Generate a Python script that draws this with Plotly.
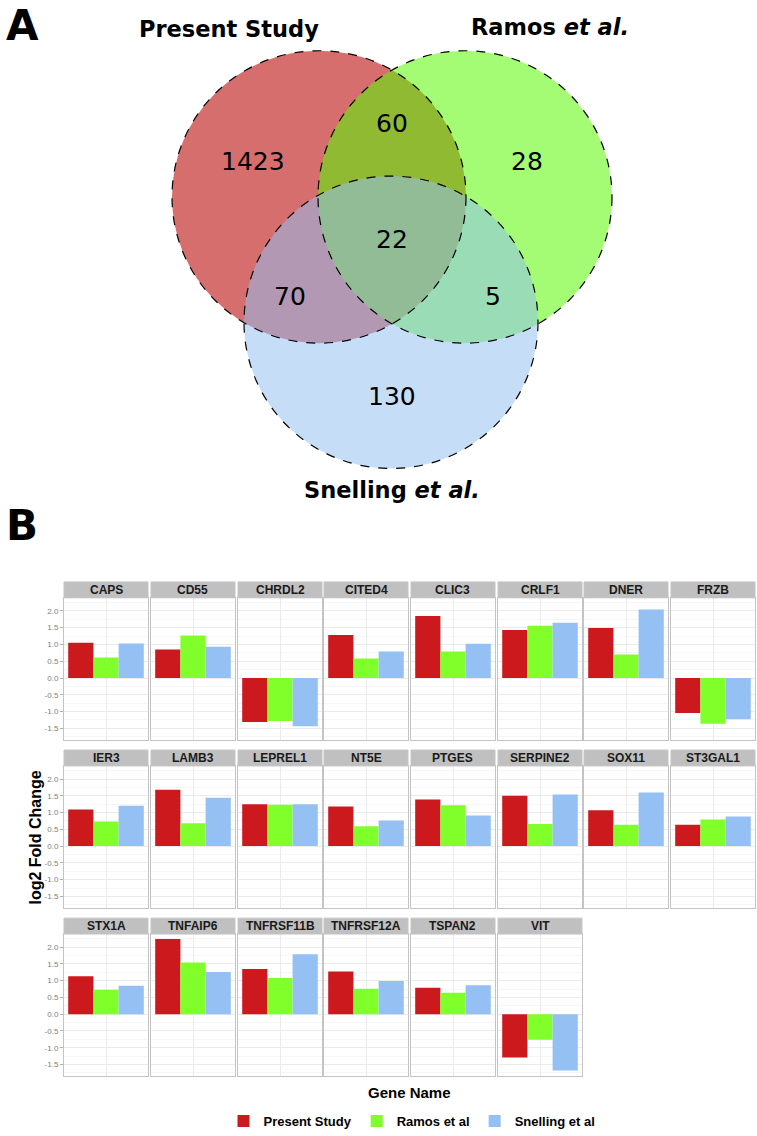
import plotly.graph_objects as go

W, H = 757, 1136

# ---------------- data ----------------
genes = ["CAPS", "CD55", "CHRDL2", "CITED4", "CLIC3", "CRLF1", "DNER", "FRZB",
         "IER3", "LAMB3", "LEPREL1", "NT5E", "PTGES", "SERPINE2", "SOX11", "ST3GAL1",
         "STX1A", "TNFAIP6", "TNFRSF11B", "TNFRSF12A", "TSPAN2", "VIT"]
present_study = [1.05, 0.85, -1.31, 1.28, 1.85, 1.43, 1.49, -1.04,
                 1.09, 1.68, 1.25, 1.18, 1.39, 1.50, 1.07, 0.64,
                 1.13, 2.24, 1.35, 1.27, 0.79, -1.29]
ramos = [0.61, 1.27, -1.28, 0.58, 0.79, 1.56, 0.70, -1.36,
         0.73, 0.68, 1.23, 0.59, 1.22, 0.66, 0.64, 0.79,
         0.73, 1.54, 1.08, 0.76, 0.64, -0.76]
snelling = [1.03, 0.93, -1.44, 0.79, 1.02, 1.65, 2.04, -1.23,
            1.20, 1.44, 1.25, 0.76, 0.91, 1.54, 1.60, 0.88,
            0.85, 1.26, 1.79, 0.99, 0.86, -1.68]
series_names = ["Present Study", "Ramos et al", "Snelling et al"]
series_colors = ["#CB191E", "#80FF2A", "#94C0F3"]
y_ticks = [-1.5, -1.0, -0.5, 0.0, 0.5, 1.0, 1.5, 2.0]
y_ticktext = ["-1.5", "-1.0", "-0.5", "0.0", "0.5", "1.0", "1.5", "2.0"]

venn_sets = ["Present Study", "Ramos <i>et al.</i>", "Snelling <i>et al.</i>"]
venn_regions = ["P only", "P&R", "R only", "P&R&S", "P&S", "R&S", "S only"]
venn_counts = [1423, 60, 28, 22, 70, 5, 130]

# ---------------- helpers ----------------
def px(x):
    return x / W

def py(y):
    return 1 - y / H

FONT = "Liberation Sans, Arial, Helvetica, sans-serif"
VFONT = "DejaVu Sans, sans-serif"

fig = go.Figure()
layout = dict(width=W, height=H, margin=dict(l=0, r=0, t=0, b=0),
              paper_bgcolor="white", plot_bgcolor="white",
              barmode="overlay", showlegend=True)
shapes = []
annotations = []

# ---------------- Panel A : Venn ----------------
venn_circles = [  # (cx, cy, r, fill)
    (319, 198, 147, "rgba(187,13,13,0.6)"),
    (465, 198, 147, "rgba(88,250,2,0.55)"),
    (391, 324, 147, "rgba(145,190,240,0.53)"),
]
for cx, cy, r, fill in venn_circles:
    shapes.append(dict(type="circle", xref="paper", yref="paper",
                       x0=px(cx - r), x1=px(cx + r), y0=py(cy + r), y1=py(cy - r),
                       fillcolor=fill, line=dict(width=0), layer="above"))
for cx, cy, r, fill in venn_circles:
    shapes.append(dict(type="circle", xref="paper", yref="paper",
                       x0=px(cx - r), x1=px(cx + r), y0=py(cy + r), y1=py(cy - r),
                       fillcolor="rgba(0,0,0,0)",
                       line=dict(width=1.2, color="black", dash="dash"), layer="above"))

count_pos = [(253, 162), (392, 124), (527, 162), (392, 241), (290, 298), (493, 298), (392, 399)]
for (x, y), c in zip(count_pos, venn_counts):
    annotations.append(dict(xref="paper", yref="paper", x=px(x), y=py(y), text=str(c),
                            showarrow=False, xanchor="center", yanchor="middle",
                            font=dict(family=VFONT, size=25, color="black")))

set_label_pos = [(229, 29), (550, 27), (392, 493)]
for (x, y), t in zip(set_label_pos, venn_sets):
    annotations.append(dict(xref="paper", yref="paper", x=px(x), y=py(y), text="<b>" + t + "</b>",
                            showarrow=False, xanchor="center", yanchor="middle",
                            font=dict(family=VFONT, size=22.5, color="black")))

for lbl, (x, y) in [("A", (22, 26)), ("B", (22, 528))]:
    annotations.append(dict(xref="paper", yref="paper", x=px(x), y=py(y), text="<b>" + lbl + "</b>",
                            showarrow=False, xanchor="center", yanchor="middle",
                            font=dict(family=VFONT, size=42, color="black")))

# ---------------- Panel B : faceted bars ----------------
col_x0 = [64, 151, 238, 324, 411, 498, 584, 671]
panel_w = 84
row_strip_top = [585, 754, 923]
strip_h = 16
panel_h = 143
yrange = [-1.85, 2.39]

values = [present_study, ramos, snelling]
for i, g in enumerate(genes):
    r, c = divmod(i, 8)
    x0 = col_x0[c]
    st = row_strip_top[r]
    ptop = st + strip_h
    pbot = ptop + panel_h
    suffix = "" if i == 0 else str(i + 1)
    xa, ya = "x" + suffix, "y" + suffix
    for s in range(3):
        fig.add_trace(go.Bar(x=[0], y=[values[s][i]], name="<b>" + series_names[s] + "</b>",
                             marker=dict(color=series_colors[s], line=dict(width=0)),
                             width=0.3, offset=-0.45 + 0.3 * s,
                             xaxis=xa, yaxis=ya, legendgroup=series_names[s],
                             showlegend=(i == 0), hoverinfo="y"))
    layout["xaxis" + suffix] = dict(domain=[px(x0), px(x0 + panel_w)], anchor=ya,
                                    range=[-0.5, 0.5], tickvals=[0], showticklabels=False,
                                    ticks="", showgrid=True, gridcolor="#ebebeb", gridwidth=1,
                                    zeroline=False, showline=True, mirror=True,
                                    linecolor="#c4c4c4", linewidth=1, fixedrange=True)
    layout["yaxis" + suffix] = dict(domain=[py(pbot), py(ptop)], anchor=xa,
                                    range=yrange, tickvals=y_ticks, ticktext=y_ticktext,
                                    showticklabels=(c == 0), ticks="outside" if c == 0 else "",
                                    ticklen=3, tickcolor="#b0b0b0",
                                    tickfont=dict(family=FONT, size=8, color="#808080"),
                                    showgrid=True, gridcolor="#ebebeb", gridwidth=1,
                                    minor=dict(tick0=0.25, dtick=0.5, showgrid=True,
                                               gridcolor="#f6f6f6", gridwidth=1),
                                    zeroline=False, showline=True, mirror=True,
                                    linecolor="#c4c4c4", linewidth=1, fixedrange=True)
    # strip
    shapes.append(dict(type="rect", xref="paper", yref="paper",
                       x0=px(x0), x1=px(x0 + panel_w), y0=py(ptop), y1=py(st),
                       fillcolor="#c0c0c0", line=dict(width=1, color="#c4c4c4"), layer="above"))
    annotations.append(dict(xref="paper", yref="paper", x=px(x0 + panel_w / 2), y=py(st + strip_h / 2),
                            text="<b>" + g + "</b>", showarrow=False, xanchor="center", yanchor="middle",
                            font=dict(family=FONT, size=12, color="#1a1a1a")))

annotations.append(dict(xref="paper", yref="paper", x=px(36), y=py(842), text="<b>log2 Fold Change</b>",
                        textangle=-90, showarrow=False, xanchor="center", yanchor="middle",
                        font=dict(family=FONT, size=16, color="black")))
annotations.append(dict(xref="paper", yref="paper", x=px(409), y=py(1098), text="<b>Gene Name</b>",
                        showarrow=False, xanchor="center", yanchor="middle",
                        font=dict(family=FONT, size=15, color="black")))

layout["shapes"] = shapes
layout["annotations"] = annotations
layout["legend"] = dict(orientation="h", x=px(412), xanchor="center", y=py(1127), yanchor="middle",
                        font=dict(family=FONT, size=13, color="black"), itemwidth=30,
                        bgcolor="rgba(0,0,0,0)", traceorder="normal")
fig.update_layout(**layout)

fig.write_html("out.html", config={"displayModeBar": False},
               post_script="document.body.style.margin='0';document.documentElement.style.overflow='hidden';")
